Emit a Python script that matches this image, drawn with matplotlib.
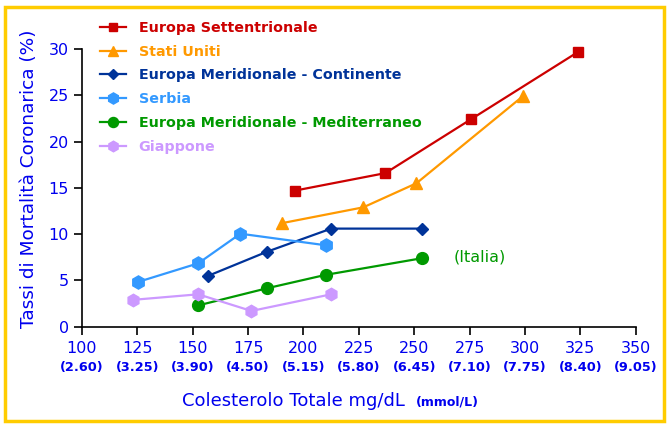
import matplotlib
matplotlib.use("Agg")
import matplotlib.pyplot as plt
from matplotlib.patches import Rectangle
from matplotlib.transforms import blended_transform_factory

# ---------------------------------------------------------------- data
names = ["Europa Settentrionale", "Stati Uniti", "Europa Meridionale - Continente",
         "Serbia", "Europa Meridionale - Mediterraneo", "Giappone"]
colours = ["#CC0000", "#FF9900", "#003399", "#3399FF", "#009900", "#CC99FF"]
markers = ["s", "^", "D", "h", "o", "h"]

nord_x = [196, 237, 275.5, 324]
nord_y = [14.7, 16.6, 22.4, 29.7]
usa_x = [190.5, 227, 251, 299]
usa_y = [11.2, 12.9, 15.5, 24.9]
cont_x = [157, 183.5, 212.5, 253.5]
cont_y = [5.5, 8.1, 10.6, 10.6]
serb_x = [125.5, 152.5, 171.5, 210]
serb_y = [4.85, 6.85, 10.05, 8.8]
medi_x = [152.5, 183.5, 210, 253.5]
medi_y = [2.3, 4.15, 5.6, 7.4]
giap_x = [123, 152.5, 176.5, 212.5]
giap_y = [2.9, 3.5, 1.7, 3.5]

series_x = [nord_x, usa_x, cont_x, serb_x, medi_x, giap_x]
series_y = [nord_y, usa_y, cont_y, serb_y, medi_y, giap_y]

x_ticks = [100, 125, 150, 175, 200, 225, 250, 275, 300, 325, 350]
mmol_labels = ["(2.60)", "(3.25)", "(3.90)", "(4.50)", "(5.15)", "(5.80)",
               "(6.45)", "(7.10)", "(7.75)", "(8.40)", "(9.05)"]
y_ticks = [0, 5, 10, 15, 20, 25, 30]

BLUE = "#0000EE"

fig = plt.figure(figsize=(6.72, 4.29), dpi=100, facecolor="white")
ax = fig.add_axes([0.122, 0.2385, 0.824, 0.647])

msizes = [7, 9, 6.5, 9.5, 8.5, 9]
for xs, ys, c, m, ms, n in zip(series_x, series_y, colours, markers, msizes, names):
    ax.plot(xs, ys, color=c, lw=1.6, marker=m, ms=ms, mec=c, mfc=c, label=n,
            clip_on=False)

ax.set_xlim(100, 350); ax.set_ylim(0, 30)
ax.set_xticks(x_ticks); ax.set_yticks(y_ticks)
ax.set_xticklabels([str(t) for t in x_ticks])
ax.tick_params(colors="black", labelcolor=BLUE, labelsize=11.5, length=6, width=1.2)
ax.tick_params(axis="x", pad=4)
for s in ("top", "right"):
    ax.spines[s].set_visible(False)
for s in ("left", "bottom"):
    ax.spines[s].set_linewidth(1.2)

# mmol/L row under the tick labels
tr = blended_transform_factory(ax.transData, fig.transFigure)
for t, lab in zip(x_ticks, mmol_labels):
    ax.text(t, 1 - 367 / 429, lab, transform=tr, ha="center", va="center",
            color=BLUE, fontsize=9.3, fontweight="bold", clip_on=False)

fig.text(182 / 672, 1 - 401 / 429, "Colesterolo Totale mg/dL", ha="left",
         va="center", color=BLUE, fontsize=13)
fig.text(416 / 672, 1 - 402 / 429, "(mmol/L)", ha="left", va="center",
         color=BLUE, fontsize=9, fontweight="bold")
fig.text(29 / 672, 1 - 179 / 429, "Tassi di Mortalità Coronarica (%)", rotation=90,
         ha="center", va="center", color=BLUE, fontsize=13.3)

ax.text(268, 7.56, "(Italia)", color="#009900", fontsize=11.5, va="center", ha="left")

leg = ax.legend(loc="upper left", bbox_to_anchor=(100 / 672, 1 - 21 / 429),
                bbox_transform=fig.transFigure, frameon=False,
                prop={"weight": "bold", "size": 10.3}, handlelength=1.8,
                handletextpad=0.9, labelspacing=0.68, borderpad=0,
                borderaxespad=0, markerscale=0.85)
for txt, c in zip(leg.get_texts(), colours):
    txt.set_color(c)

fig.patches.append(Rectangle((4.5 / 672, 1 - 420.5 / 429), 659.5 / 672, 414 / 429,
                             transform=fig.transFigure, fill=False,
                             edgecolor="#FFCC00", lw=2.5))

fig.savefig("out.png", dpi=100, facecolor="white")
